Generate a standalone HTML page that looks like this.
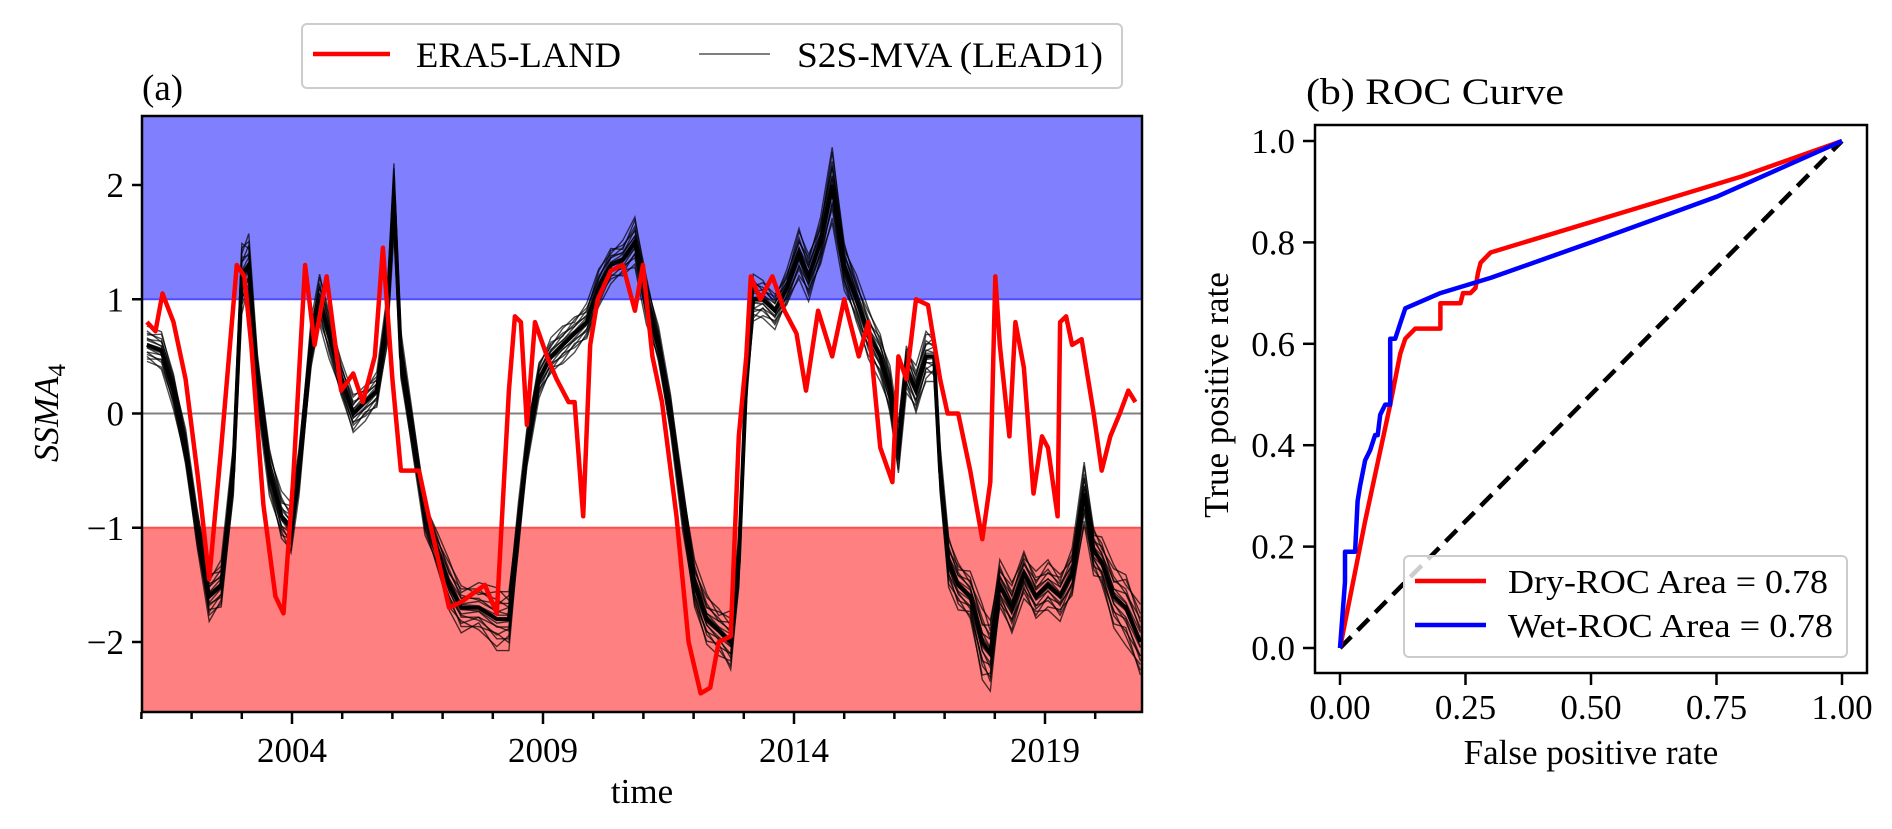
<!DOCTYPE html>
<html><head><meta charset="utf-8"><style>
html,body{margin:0;padding:0;background:#fff;}
svg{display:block;font-family:"Liberation Serif","DejaVu Serif",serif;}
</style></head><body>
<svg id="fig" width="1892" height="829" viewBox="0 0 1892 829" xmlns="http://www.w3.org/2000/svg">
<g id="pa"></g>
<g id="pb"></g>
</svg>
<script>
// ---------- Panel (a) data ----------
const eraYears=[2001.11,2001.28,2001.42,2001.64,2001.88,2002.11,2002.19,2002.35,2002.59,2002.90,2003.05,2003.19,2003.43,2003.67,2003.83,2004.02,2004.26,2004.45,2004.69,2004.98,2005.22,2005.41,2005.65,2005.81,2006.0,2006.17,2006.53,2006.77,2007.13,2007.37,2007.84,2008.08,2008.32,2008.44,2008.56,2008.68,2008.84,2009.08,2009.27,2009.51,2009.63,2009.80,2009.94,2010.09,2010.35,2010.59,2010.83,2010.99,2011.18,2011.37,2011.66,2011.90,2012.14,2012.33,2012.50,2012.74,2012.90,2013.05,2013.14,2013.33,2013.57,2013.81,2014.05,2014.24,2014.48,2014.76,2015.00,2015.29,2015.48,2015.72,2015.96,2016.08,2016.24,2016.43,2016.67,2016.91,2017.06,2017.27,2017.51,2017.75,2017.91,2018.01,2018.10,2018.29,2018.41,2018.58,2018.77,2018.94,2019.06,2019.25,2019.30,2019.42,2019.54,2019.73,2019.97,2020.13,2020.30,2020.49,2020.66,2020.80,2020.90];
const eraValues=[0.8,0.72,1.05,0.8,0.3,-0.5,-0.8,-1.45,-0.3,1.3,1.2,0.6,-0.8,-1.6,-1.75,-0.6,1.3,0.6,1.2,0.2,0.35,0.1,0.5,1.45,0.3,-0.5,-0.5,-1.0,-1.7,-1.65,-1.5,-1.75,0.2,0.85,0.8,-0.1,0.8,0.5,0.3,0.1,0.1,-0.9,0.6,1.0,1.25,1.3,0.9,1.3,0.5,0.1,-0.9,-2.0,-2.45,-2.4,-2.0,-1.95,-0.2,0.5,1.2,1.0,1.2,0.9,0.7,0.2,0.9,0.5,1.0,0.5,0.8,-0.3,-0.6,0.5,0.3,1.0,0.95,0.3,0.0,0.0,-0.5,-1.1,-0.6,1.2,0.6,-0.2,0.8,0.4,-0.7,-0.2,-0.3,-0.9,0.8,0.85,0.6,0.65,0.0,-0.5,-0.2,0.0,0.2,0.1];
const ensYears=[2001.11,2001.40,2001.64,2001.88,2002.11,2002.35,2002.59,2002.83,2003.00,2003.14,2003.31,2003.55,2003.79,2003.98,2004.14,2004.38,2004.55,2004.74,2004.98,2005.22,2005.46,2005.69,2005.89,2006.03,2006.17,2006.41,2006.65,2006.89,2007.13,2007.37,2007.72,2008.08,2008.32,2008.51,2008.68,2008.92,2009.16,2009.39,2009.63,2009.87,2010.11,2010.35,2010.59,2010.83,2011.06,2011.30,2011.54,2011.78,2012.02,2012.26,2012.50,2012.74,2012.90,2013.05,2013.19,2013.38,2013.62,2013.86,2014.10,2014.29,2014.53,2014.76,2015.00,2015.24,2015.48,2015.72,2015.91,2016.08,2016.24,2016.43,2016.63,2016.79,2016.91,2017.08,2017.27,2017.51,2017.75,2017.91,2018.10,2018.34,2018.58,2018.82,2019.06,2019.30,2019.54,2019.78,2019.97,2020.13,2020.37,2020.61,2020.90];
const ensMean=[0.6,0.55,0.2,-0.3,-1.0,-1.6,-1.5,-0.5,1.2,1.3,0.3,-0.5,-0.9,-1.0,-0.5,0.6,1.0,0.7,0.3,0.0,0.1,0.2,0.8,1.9,0.5,-0.2,-0.9,-1.2,-1.5,-1.7,-1.7,-1.8,-1.8,-1.0,-0.3,0.3,0.5,0.6,0.7,0.8,1.1,1.3,1.35,1.5,1.0,0.6,0.0,-0.8,-1.5,-1.8,-1.9,-2.0,-1.3,0.3,1.0,1.0,0.9,1.1,1.4,1.2,1.5,2.0,1.3,1.0,0.7,0.5,0.2,-0.3,0.4,0.2,0.5,0.5,-0.5,-1.3,-1.5,-1.6,-2.0,-2.1,-1.5,-1.7,-1.4,-1.6,-1.5,-1.6,-1.4,-0.7,-1.2,-1.3,-1.6,-1.7,-2.0];
const ensSpread=[0.15,0.15,0.15,0.15,0.15,0.2,0.2,0.2,0.3,0.25,0.2,0.2,0.2,0.2,0.2,0.2,0.2,0.2,0.15,0.15,0.15,0.15,0.2,0.3,0.2,0.15,0.15,0.15,0.2,0.2,0.2,0.25,0.25,0.2,0.15,0.15,0.15,0.15,0.15,0.15,0.15,0.15,0.15,0.2,0.2,0.15,0.15,0.2,0.2,0.2,0.2,0.25,0.2,0.2,0.2,0.15,0.15,0.15,0.2,0.2,0.2,0.3,0.2,0.2,0.2,0.2,0.2,0.2,0.2,0.2,0.2,0.2,0.2,0.2,0.2,0.2,0.3,0.3,0.2,0.2,0.2,0.2,0.2,0.2,0.2,0.25,0.2,0.2,0.25,0.3,0.3];
const aYTicks=[-2,-1,0,1,2];
const aYTickLabels=["\u22122","\u22121","0","1","2"];
const aXTicks=[2004,2009,2014,2019];
const aXTickLabels=["2004","2009","2014","2019"];
// ---------- Panel (b) data ----------
const dryFpr=[0,0.05,0.1,0.12,0.13,0.15,0.2,0.2,0.24,0.245,0.26,0.27,0.275,0.28,0.3,0.4,0.6,0.8,1.0];
const dryTpr=[0,0.25,0.48,0.58,0.61,0.63,0.63,0.68,0.68,0.70,0.70,0.71,0.74,0.76,0.78,0.81,0.87,0.93,1.0];
const wetFpr=[0,0.01,0.01,0.03,0.035,0.04,0.05,0.06,0.07,0.075,0.08,0.09,0.1,0.1,0.11,0.12,0.13,0.2,0.3,0.5,0.75,1.0];
const wetTpr=[0,0.13,0.19,0.19,0.29,0.32,0.37,0.39,0.42,0.42,0.46,0.48,0.48,0.61,0.61,0.64,0.67,0.70,0.73,0.80,0.89,1.0];
const diagFpr=[0,1];
const diagTpr=[0,1];
const bTicks=[0,0.25,0.5,0.75,1.0];
const bXTickLabels=["0.00","0.25","0.50","0.75","1.00"];
const bYTicks=[0,0.2,0.4,0.6,0.8,1.0];
const bYTickLabels=["0.0","0.2","0.4","0.6","0.8","1.0"];

const NS="http://www.w3.org/2000/svg";
const FS=35;
function mk(parent,tag,attrs,text){const e=document.createElementNS(NS,tag);for(const k in attrs)e.setAttribute(k,attrs[k]);if(text!==undefined)e.textContent=text;parent.appendChild(e);return e;}

// ---------- Panel (a) ----------
const A={l:142,r:1142,t:116,b:712};
const ax=y=>292+(y-2004)*50.2;
const ay=v=>413.5-v*114.25;
const pa=document.getElementById('pa');
let r;
r=mk(pa,'rect',{x:A.l,y:A.t,width:A.r-A.l,height:ay(1)-A.t,fill:'#8080ff'});


r=mk(pa,'rect',{x:A.l,y:ay(-1),width:A.r-A.l,height:A.b-ay(-1),fill:'#ff8080'});


r=mk(pa,'line',{x1:A.l,x2:A.r,y1:ay(1),y2:ay(1),stroke:'#4d4dff','stroke-width':2});


r=mk(pa,'line',{x1:A.l,x2:A.r,y1:ay(-1),y2:ay(-1),stroke:'#ff4d4d','stroke-width':2});


r=mk(pa,'line',{x1:A.l,x2:A.r,y1:ay(0),y2:ay(0),stroke:'#808080','stroke-width':2});


const clipA=mk(pa,'clipPath',{id:'clipA'});mk(clipA,'rect',{x:A.l,y:A.t,width:A.r-A.l,height:A.b-A.t});
const ens=mk(pa,'g',{'clip-path':'url(#clipA)'});


const K=17;
for(let m=0;m<K;m++){
  const k=-1.1+2.2*m/(K-1);
  const d=ensYears.map((y,i)=>(i?'L':'M')+ax(y).toFixed(1)+','+ay(ensMean[i]+ensSpread[i]*k*((i+m)%3===0?0.6:1)).toFixed(1)).join('');
  const p=mk(ens,'path',{d:d,fill:'none',stroke:'#000','stroke-opacity':0.7,'stroke-width':1.4});
  
  
}
const pm=mk(ens,'path',{d:ensYears.map((y,i)=>(i?'L':'M')+ax(y).toFixed(1)+','+ay(ensMean[i]).toFixed(1)).join(''),fill:'none',stroke:'#000','stroke-width':4});


const er=mk(pa,'path',{'clip-path':'url(#clipA)',d:eraYears.map((y,i)=>(i?'L':'M')+ax(y).toFixed(1)+','+ay(eraValues[i]).toFixed(1)).join(''),fill:'none',stroke:'#ff0000','stroke-width':4.5,'stroke-linejoin':'round'});


r=mk(pa,'rect',{x:A.l,y:A.t,width:A.r-A.l,height:A.b-A.t,fill:'none',stroke:'#000','stroke-width':2.5});


aYTicks.forEach((v,i)=>{
  mk(pa,'line',{x1:A.l-10,x2:A.l,y1:ay(v),y2:ay(v),stroke:'#000','stroke-width':2.5});
  const t=mk(pa,'text',{x:A.l-18,y:ay(v)+12,'font-size':FS,'text-anchor':'end'},aYTickLabels[i]);
  
  
});
for(let y=2001;y<=2021;y++){const x=ax(y);if(x<A.l-1||x>A.r+1)continue;mk(pa,'line',{x1:x,x2:x,y1:A.b,y2:A.b+(aXTicks.includes(y)?12:7),stroke:'#000','stroke-width':2.5});}
aXTicks.forEach((y,i)=>{
  const t=mk(pa,'text',{x:ax(y),y:762,'font-size':FS,'text-anchor':'middle'},aXTickLabels[i]);
  
  
});
let t;
t=mk(pa,'text',{x:642,y:803,'font-size':FS,'text-anchor':'middle'},'time');


t=mk(pa,'text',{x:0,y:0,'font-size':FS,'font-style':'italic','text-anchor':'middle',transform:'translate(58,413) rotate(-90)'});


t.appendChild(document.createTextNode('SSMA'));
mk(t,'tspan',{'font-size':25,'font-style':'normal',dy:7},'4');
t=mk(pa,'text',{x:142,y:100,'font-size':37},'(a)');


// legend
const lg=mk(pa,'g',{});


mk(lg,'rect',{x:302,y:24,width:820,height:64,rx:5,fill:'#fff',stroke:'#cccccc','stroke-width':2});
mk(lg,'line',{x1:313,x2:390,y1:54,y2:54,stroke:'#ff0000','stroke-width':4.5});
t=mk(lg,'text',{x:416,y:67,'font-size':36,textLength:205,lengthAdjust:'spacingAndGlyphs'},'ERA5-LAND');


mk(lg,'line',{x1:699,x2:770,y1:54,y2:54,stroke:'#555','stroke-width':1.5});
t=mk(lg,'text',{x:797,y:67,'font-size':36,textLength:306,lengthAdjust:'spacingAndGlyphs'},'S2S-MVA (LEAD1)');



// ---------- Panel (b) ----------
const B={l:1315,r:1867,t:125,b:673};
const bx=v=>1340+v*502;
const by=v=>648-v*507;
const pb=document.getElementById('pb');
r=mk(pb,'rect',{x:B.l,y:B.t,width:B.r-B.l,height:B.b-B.t,fill:'#fff',stroke:'#000','stroke-width':2.5});


function curve(xs,ys,attrs,name){const p=mk(pb,'path',Object.assign({d:xs.map((x,i)=>(i?'L':'M')+bx(x).toFixed(1)+','+by(ys[i]).toFixed(1)).join(''),fill:'none','stroke-linejoin':'round'},attrs));return p;}
curve(diagFpr,diagTpr,{stroke:'#000','stroke-width':4.5,'stroke-dasharray':'16,9'},'chance-diagonal');
curve(dryFpr,dryTpr,{stroke:'#ff0000','stroke-width':4.5},'dry-roc-curve');
curve(wetFpr,wetTpr,{stroke:'#0000ff','stroke-width':4.5},'wet-roc-curve');
bTicks.forEach((v,i)=>{
  mk(pb,'line',{x1:bx(v),x2:bx(v),y1:B.b,y2:B.b+12,stroke:'#000','stroke-width':2.5});
  const tt=mk(pb,'text',{x:bx(v),y:719,'font-size':FS,'text-anchor':'middle'},bXTickLabels[i]);
  
  
});
bYTicks.forEach((v,i)=>{
  mk(pb,'line',{x1:B.l-12,x2:B.l,y1:by(v),y2:by(v),stroke:'#000','stroke-width':2.5});
  const tt=mk(pb,'text',{x:B.l-20,y:by(v)+12,'font-size':FS,'text-anchor':'end'},bYTickLabels[i]);
  
  
});
t=mk(pb,'text',{x:bx(0.5),y:764,'font-size':FS,'text-anchor':'middle'},'False positive rate');


t=mk(pb,'text',{x:0,y:0,'font-size':FS,'text-anchor':'middle',transform:'translate(1228,395) rotate(-90)'},'True positive rate');


t=mk(pb,'text',{x:1306,y:104,'font-size':37,textLength:258,lengthAdjust:'spacingAndGlyphs'},'(b) ROC Curve');


const lb=mk(pb,'g',{});


mk(lb,'rect',{x:1404,y:556,width:443,height:101,rx:5,fill:'#fff','fill-opacity':0.8,stroke:'#cccccc','stroke-width':2});
mk(lb,'line',{x1:1415,x2:1486,y1:581,y2:581,stroke:'#ff0000','stroke-width':4.5});
t=mk(lb,'text',{x:1508,y:593,'font-size':34,textLength:320,lengthAdjust:'spacingAndGlyphs'},'Dry-ROC Area = 0.78');


mk(lb,'line',{x1:1415,x2:1486,y1:625,y2:625,stroke:'#0000ff','stroke-width':4.5});
t=mk(lb,'text',{x:1508,y:637,'font-size':34,textLength:325,lengthAdjust:'spacingAndGlyphs'},'Wet-ROC Area = 0.78');


</script>
</body></html>
